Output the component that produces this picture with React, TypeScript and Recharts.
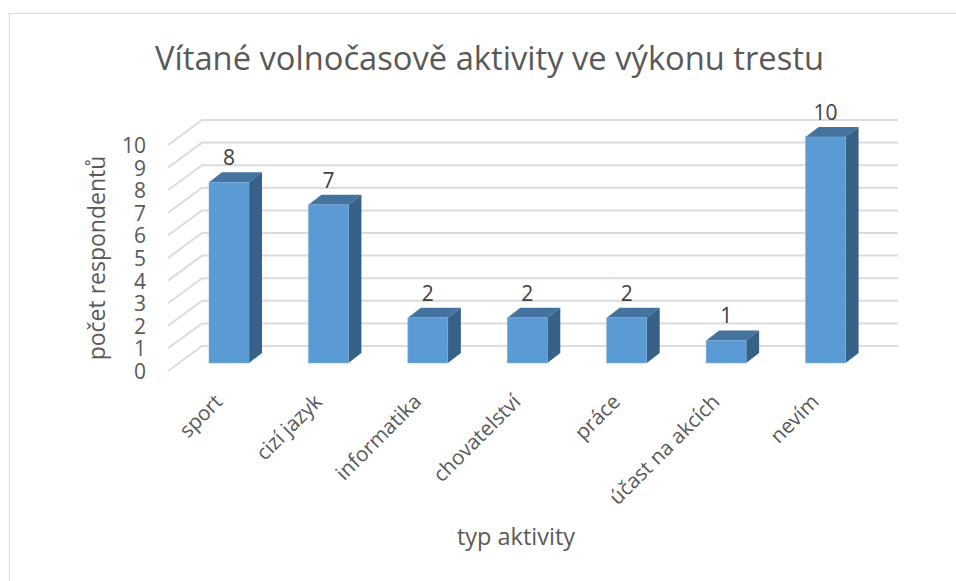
import React from 'react';
import { BarChart, Bar, CartesianGrid, XAxis, YAxis, LabelList } from 'recharts';

const categories = ['sport', 'cizí jazyk', 'informatika', 'chovatelství', 'práce', 'účast na akcích', 'nevím'];
const respondents = [8, 7, 2, 2, 2, 1, 10];
const yTicks = [0, 1, 2, 3, 4, 5, 6, 7, 8, 9, 10];

const data = categories.map((name, i) => ({ name, value: respondents[i] }));

const FONT = '"Open Sans", sans-serif';
const TEXT = '#595959';

// fake 3D: front plane sits a bit lower/left of the bars, back wall up/right
const Box = (props: any) => {
  const { x, y, width, height } = props;
  const dx = 13;
  const dy = 10;
  return (
    <g>
      <path d={`M${x},${y} l${dx},${-dy} h${width} l${-dx},${dy} Z`} fill="#44739f" />
      <path d={`M${x + width},${y} l${dx},${-dy} v${height} l${-dx},${dy} Z`} fill="#376287" />
      <rect x={x} y={y} width={width} height={height} fill="#5b9bd5" stroke="#7fb0de" strokeWidth={0.5} />
    </g>
  );
};

const GridLine = (props: any) => {
  const { x1, x2, y1 } = props;
  return (
    <path
      d={`M${x1 - 11},${y1 + 8} L${x1 + 23},${y1 - 17} H${x2 + 23}`}
      fill="none"
      stroke="#dcdcdc"
      strokeWidth={2}
    />
  );
};

const YTick = (props: any) => {
  const { x, y, payload } = props;
  return (
    <text x={x} y={y + 8} textAnchor="end" dominantBaseline="central" fontSize={21} fontFamily={FONT} fill={TEXT}>
      {payload.value}
    </text>
  );
};

const XTick = (props: any) => {
  const { x, y, payload } = props;
  const tx = x - 5;
  const ty = y + 32;
  return (
    <text
      x={tx}
      y={ty}
      textAnchor="end"
      fontSize={20.6}
      fontFamily={FONT}
      fill={TEXT}
      transform={`rotate(-45 ${tx} ${ty})`}
    >
      {payload.value}
    </text>
  );
};

export default function App() {
  return (
    <div style={{ position: 'absolute', left: 0, top: 0, width: 956, height: 581, background: '#fff' }}>
      <div
        style={{
          position: 'absolute',
          left: 9,
          top: 13,
          width: 960,
          height: 580,
          border: '1.5px solid #d9d9d9',
          boxSizing: 'border-box',
        }}
      />
      <BarChart
        width={956}
        height={581}
        data={data}
        margin={{ top: 137, right: 81, bottom: 118, left: 119 }}
        style={{ position: 'absolute', left: 0, top: 0 }}
      >
        <CartesianGrid vertical={false} horizontal={GridLine} />
        <XAxis dataKey="name" axisLine={false} tickLine={false} interval={0} tick={XTick} height={100} />
        <YAxis
          domain={[0, 10]}
          ticks={yTicks}
          interval={0}
          axisLine={false}
          tickLine={false}
          tick={YTick}
          width={60}
          tickMargin={27}
        />
        <Bar dataKey="value" barSize={40} shape={Box} isAnimationActive={false}>
          <LabelList dataKey="value" position="top" offset={17} fontSize={21} fontFamily={FONT} fill="#404040" />
        </Bar>
        <text x={489.5} y={70} textAnchor="middle" fontSize={32.7} fontFamily={FONT} fill={TEXT}>
          Vítané volnočasově aktivity ve výkonu trestu
        </text>
        <text
          x={105}
          y={258}
          textAnchor="middle"
          fontSize={23}
          fontFamily={FONT}
          fill={TEXT}
          transform="rotate(-90 105 258)"
        >
          počet respondentů
        </text>
        <text x={516} y={545} textAnchor="middle" fontSize={23.5} fontFamily={FONT} fill={TEXT}>
          typ aktivity
        </text>
      </BarChart>
    </div>
  );
}
